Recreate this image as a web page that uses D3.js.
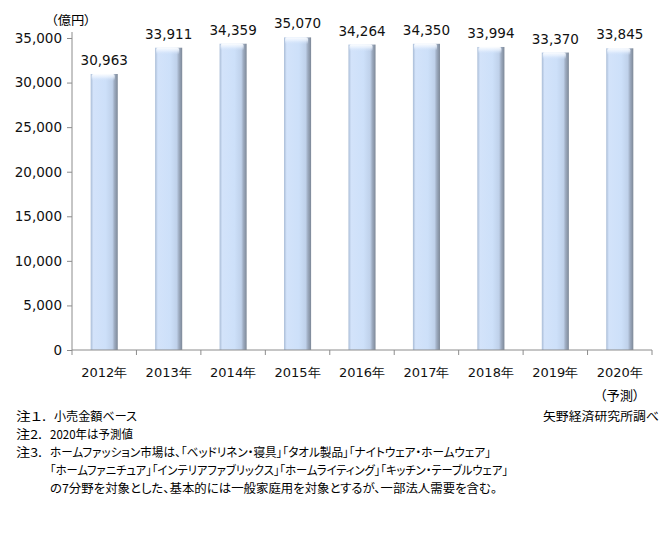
<!DOCTYPE html>
<html><head><meta charset="utf-8">
<script src="https://cdn.jsdelivr.net/npm/d3@7"></script>
<style>
html,body{margin:0;padding:0;background:#fff;}
svg{display:block;}
.num{font-family:"DejaVu Sans",Verdana,sans-serif;}
.jp{font-family:"Noto Sans CJK JP",sans-serif;font-feature-settings:"palt";}
</style></head>
<body>
<svg id="c" width="672" height="539"></svg>
<script>
const categories = ["2012年","2013年","2014年","2015年","2016年","2017年","2018年","2019年","2020年"];
const values = [30963,33911,34359,35070,34264,34350,33994,33370,33845];
const yTicks = [0,5000,10000,15000,20000,25000,30000,35000];
const unitLabel = "（億円）";
const forecastLabel = "（予測）";
const notes = [
  {head:"注１.", body:"小売金額ベース"},
  {head:"注2.", body:"2020年は予測値"},
  {head:"注3.", body:"ホームファッション市場は、「ベッドリネン・寝具」「タオル製品」「ナイトウェア・ホームウェア」"},
  {head:"", body:"「ホームファニチュア」「インテリアファブリックス」「ホームライティング」「キッチン・テーブルウェア」"},
  {head:"", body:"の7分野を対象とした、基本的には一般家庭用を対象とするが、一部法人需要を含む。"}
];
const source = "矢野経済研究所調べ";

const svg = d3.select("#c");
const left = 72, right = 652, y0 = 350, yTop = 38;
const x = d3.scaleBand().domain(categories).range([left, right]).padding(0);
const y = d3.scaleLinear().domain([0, 35000]).range([y0, yTop]);
const axisColor = "#8c8c8c";

const defs = svg.append("defs");
const g1 = defs.append("linearGradient").attr("id","barH").attr("x1","0").attr("x2","1").attr("y1","0").attr("y2","0");
[["0%","#a9bcd6"],["10%","#d3e3fa"],["55%","#cde0f9"],["80%","#bfd1ea"],["88%","#9dabc0"],["100%","#7d8897"]]
  .forEach(s=>g1.append("stop").attr("offset",s[0]).attr("stop-color",s[1]));
const g2 = defs.append("linearGradient").attr("id","capV").attr("x1","0").attr("x2","0").attr("y1","0").attr("y2","1");
[["0%","#ffffff",0.95],["45%","#eef5ff",0.7],["100%","#d3e3fa",0]]
  .forEach(s=>g2.append("stop").attr("offset",s[0]).attr("stop-color",s[1]).attr("stop-opacity",s[2]));

const bw = x.bandwidth()*0.42;
const bars = svg.append("g").selectAll("g").data(categories).join("g");
bars.append("rect")
  .attr("x", d=>x(d)+x.bandwidth()/2-bw/2)
  .attr("y", (d,i)=>y(values[i]))
  .attr("width", bw)
  .attr("height", (d,i)=>y0-y(values[i]))
  .attr("fill","url(#barH)");
bars.append("rect")
  .attr("x", d=>x(d)+x.bandwidth()/2-bw/2+1)
  .attr("y", (d,i)=>y(values[i]))
  .attr("width", bw-4)
  .attr("height", 7)
  .attr("rx", 2)
  .attr("fill","url(#capV)");

// y axis
const yAxis = svg.append("g").attr("transform",`translate(${left},0)`)
  .call(d3.axisLeft(y).tickValues(yTicks).tickSize(5).tickPadding(5).tickFormat(d3.format(",")));
yAxis.select(".domain").remove();
yAxis.append("line").attr("x1",0).attr("x2",0).attr("y1",32).attr("y2",y0).attr("stroke",axisColor);
yAxis.selectAll(".tick line").attr("stroke",axisColor);
yAxis.selectAll(".tick text").attr("class","num").attr("font-size","13.5px").attr("fill","#111");

// x axis
const xAxis = svg.append("g").attr("transform",`translate(0,${y0})`);
xAxis.append("line").attr("x1",left).attr("x2",right).attr("y1",0).attr("y2",0).attr("stroke",axisColor);
const bounds = categories.map(c=>x(c)).concat([right]);
xAxis.selectAll("line.tk").data(bounds).join("line").attr("class","tk")
  .attr("x1",d=>d).attr("x2",d=>d).attr("y1",0).attr("y2",5).attr("stroke",axisColor);
xAxis.selectAll("text.xl").data(categories).join("text").attr("class","xl num")
  .attr("x",d=>x(d)+x.bandwidth()/2).attr("y",27).attr("text-anchor","middle")
  .attr("font-size","13px").attr("fill","#111").text(d=>d);
xAxis.append("text").attr("class","jp").attr("x",x(categories[8])+x.bandwidth()/2).attr("y",50)
  .attr("text-anchor","middle").attr("font-size","13px").attr("textLength",40).attr("lengthAdjust","spacingAndGlyphs").text(forecastLabel);

// data labels
svg.append("g").selectAll("text").data(categories).join("text").attr("class","num")
  .attr("x",d=>x(d)+x.bandwidth()/2).attr("y",(d,i)=>y(values[i])-9)
  .attr("text-anchor","middle").attr("font-size","13.5px").attr("fill","#111")
  .text((d,i)=>d3.format(",")(values[i]));

// unit
svg.append("text").attr("class","jp").attr("x",51).attr("y",25).attr("font-size","12.5px")
  .attr("textLength",40).attr("lengthAdjust","spacingAndGlyphs").text(unitLabel);

// notes
const noteY = [421,439,457,475,493];
const bodyX = [54,50,50,50,50];
const bodyEnd = [137,133,491,508,497];
const ng = svg.append("g").attr("class","jp").attr("font-size","12px").attr("fill","#000");
notes.forEach((n,i)=>{
  if(n.head) ng.append("text").attr("x",16).attr("y",noteY[i])
    .attr("textLength",i===0?30:26).attr("lengthAdjust","spacingAndGlyphs").text(n.head);
  ng.append("text").attr("x",bodyX[i]).attr("y",noteY[i])
    .attr("textLength",bodyEnd[i]-bodyX[i]).attr("lengthAdjust","spacingAndGlyphs").text(n.body);
});
ng.append("text").attr("x",543).attr("y",noteY[0]).attr("textLength",116).attr("lengthAdjust","spacingAndGlyphs").text(source);
</script>
</body></html>
